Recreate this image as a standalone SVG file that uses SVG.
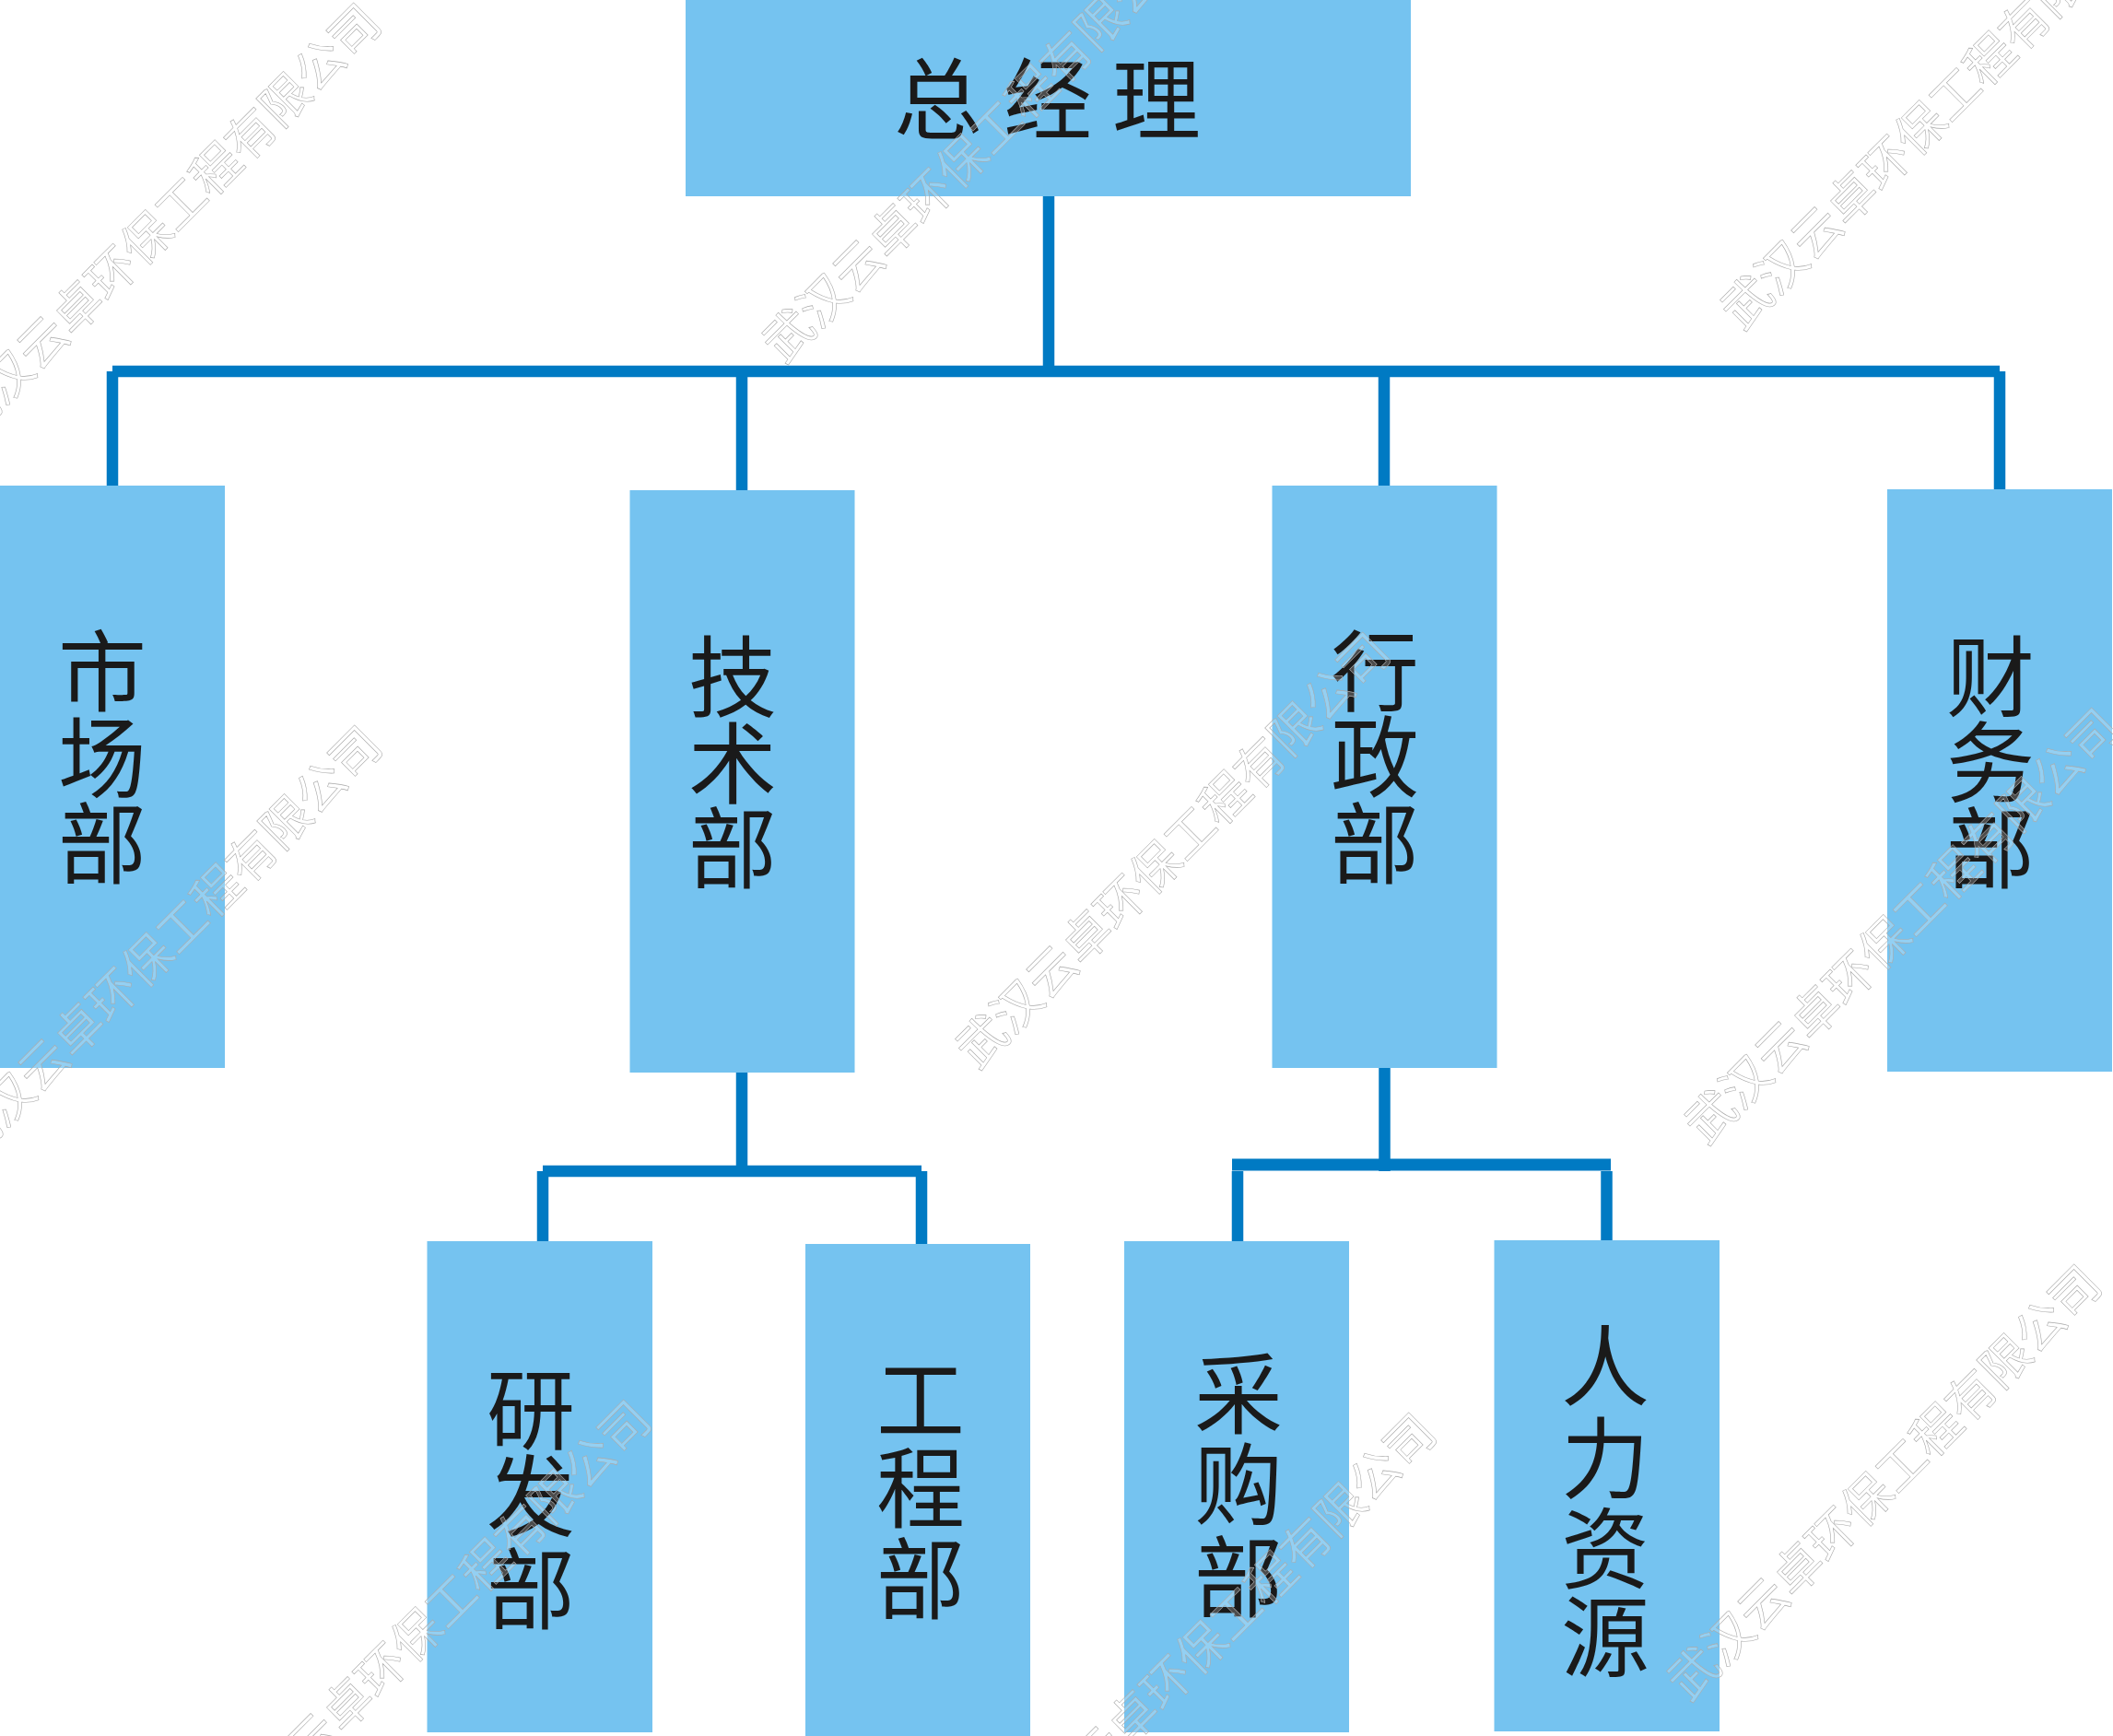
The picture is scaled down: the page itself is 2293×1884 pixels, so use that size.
<svg xmlns="http://www.w3.org/2000/svg" width="2293" height="1884" viewBox="0 0 2293 1884">
<style>
.box{fill:#75c3f0}
.c{fill:none;stroke:#007ac3;stroke-width:12.5}
.t{font-family:"Noto Sans CJK SC","Liberation Serif",serif;font-size:96px;font-weight:400;fill:#1a1a1a;text-anchor:middle}
.w{font-family:"Noto Sans CJK SC","Liberation Sans",sans-serif;font-size:53.200px;font-weight:400;fill:#fff;fill-opacity:.22;stroke:#aaa;stroke-width:.6;text-anchor:middle}
</style>
<rect width="2293" height="1884" fill="#fff"/>
<g id="connectors">
<path class="c" d="M1138 213V403M122 403V527M122 403H2170M2170 403V531M805 403V532M1502 403V527"/>
<path class="c" d="M805 1164V1271M589 1271V1348M589 1271H1000M1000 1271V1351"/>
<path class="c" d="M1502.500 1159V1271M1343 1271V1348M1743.500 1271V1346"/>
<path class="c" style="stroke-width:13" d="M1337 1264H1748"/>
</g>
<g id="n-gm"><rect class="box" x="744" y="0" width="787" height="213"/><text class="t" y="143"><tspan x="1018">总</tspan><tspan x="1137">经</tspan><tspan x="1255">理</tspan></text></g>
<g id="n-market"><rect class="box" x="0" y="527" width="244" height="632"/><text class="t"><tspan x="111" y="764">市</tspan><tspan x="111" y="858">场</tspan><tspan x="111" y="951">部</tspan></text></g>
<g id="n-tech"><rect class="box" x="683.500" y="532" width="244" height="632"/><text class="t"><tspan x="795" y="770">技</tspan><tspan x="795" y="864">术</tspan><tspan x="795" y="956">部</tspan></text></g>
<g id="n-admin"><rect class="box" x="1380.500" y="527" width="244" height="632"/><text class="t"><tspan x="1492" y="764">行</tspan><tspan x="1492" y="857">政</tspan><tspan x="1492" y="951">部</tspan></text></g>
<g id="n-fin"><rect class="box" x="2048" y="531" width="244" height="632"/><text class="t"><tspan x="2160" y="770">财</tspan><tspan x="2160" y="863">务</tspan><tspan x="2160" y="956">部</tspan></text></g>
<g id="n-rd"><rect class="box" x="463.500" y="1347" width="244.500" height="533"/><text class="t"><tspan x="576" y="1565">研</tspan><tspan x="576" y="1659">发</tspan><tspan x="576" y="1760">部</tspan></text></g>
<g id="n-eng"><rect class="box" x="874" y="1350" width="244" height="534"/><text class="t"><tspan x="999" y="1554">工</tspan><tspan x="999" y="1650">程</tspan><tspan x="999" y="1749">部</tspan></text></g>
<g id="n-purchase"><rect class="box" x="1220" y="1347" width="244" height="533"/><text class="t"><tspan x="1344" y="1548">采</tspan><tspan x="1344" y="1646">购</tspan><tspan x="1344" y="1747">部</tspan></text></g>
<g id="n-hr"><rect class="box" x="1621.500" y="1346" width="244.500" height="533"/><text class="t"><tspan x="1742" y="1518">人</tspan><tspan x="1742" y="1618">力</tspan><tspan x="1742" y="1716">资</tspan><tspan x="1742" y="1812">源</tspan></text></g>
<g id="watermarks">
<text class="w" y="19" transform="translate(178 240) rotate(-45)">武汉云卓环保工程有限公司</text>
<text class="w" y="19" transform="translate(1063 157) rotate(-45)">武汉云卓环保工程有限公司</text>
<text class="w" y="19" transform="translate(2103 121) rotate(-45)">武汉云卓环保工程有限公司</text>
<text class="w" y="19" transform="translate(179 1024) rotate(-45)">武汉云卓环保工程有限公司</text>
<text class="w" y="19" transform="translate(1273 923) rotate(-45)">武汉云卓环保工程有限公司</text>
<text class="w" y="19" transform="translate(2064 1005) rotate(-45)">武汉云卓环保工程有限公司</text>
<text class="w" y="19" transform="translate(2045 1609) rotate(-45)">武汉云卓环保工程有限公司</text>
<text class="w" y="19" transform="translate(471 1756) rotate(-45)">武汉云卓环保工程有限公司</text>
<text class="w" y="19" transform="translate(1323 1770) rotate(-45)">武汉云卓环保工程有限公司</text>
</g>
</svg>
